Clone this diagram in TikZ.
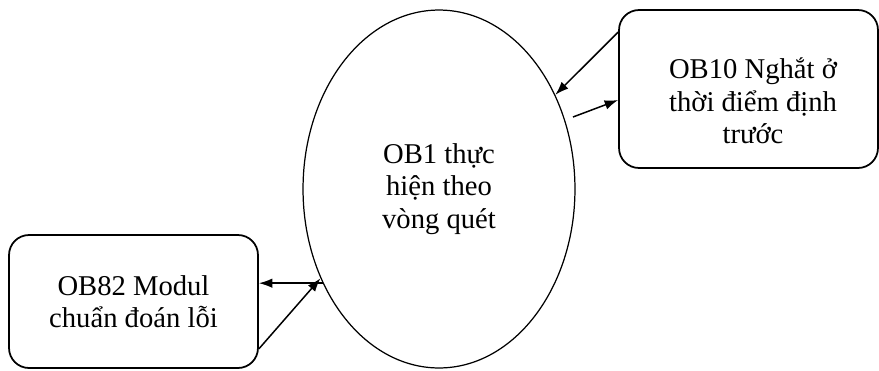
\documentclass[tikz,border=0pt]{standalone}
\usepackage{fontspec}
\setmainfont{Liberation Serif}
\usetikzlibrary{arrows.meta,shapes.geometric,calc}

\tikzset{
  obbox/.style={draw, line width=1pt, rounded corners=0.4cm},
  obtext/.style={align=center, font=\fontsize{16.3}{18.4}\selectfont},
  link/.style={line width=0.85pt, -{Latex[length=0.27cm,width=0.19cm]}}
}

\begin{document}
\begin{tikzpicture}[x=0.02cm, y=-0.02cm]

\useasboundingbox (0,0) rectangle (879,370);

\node[draw, ellipse, line width=0.7pt, minimum width=5.44cm, minimum height=7.16cm,
      obtext] (ob1) at (439,189) {OB1 thực\\hiện theo\\vòng quét};

\node[obbox, minimum width=5.18cm, minimum height=3.16cm] (ob10) at (748.5,89) {};
\node[obtext] (ob10txt) at (753,101) {OB10 Nghắt ở\\thời điểm định\\trước};

\node[obbox, minimum width=4.98cm, minimum height=2.66cm, obtext] (ob82) at (133.5,301.5)
      {OB82 Modul\\chuẩn đoán lỗi};

% OB10
\coordinate (a1) at ($(ob10.north west)+(0,23)$);
\coordinate (a2) at (573,117);
\draw[link] (a1) -- (ob1.39);
\draw[link] (a2) -- (ob10.west |- 0,100);

% OB82
\coordinate (b1) at ($(ob82.south east)+(0,-20)$);
\draw[link] (ob1.219) -- (ob82.east |- ob1.219);
\draw[link] (b1) -- (ob1.217);

\end{tikzpicture}
\end{document}
